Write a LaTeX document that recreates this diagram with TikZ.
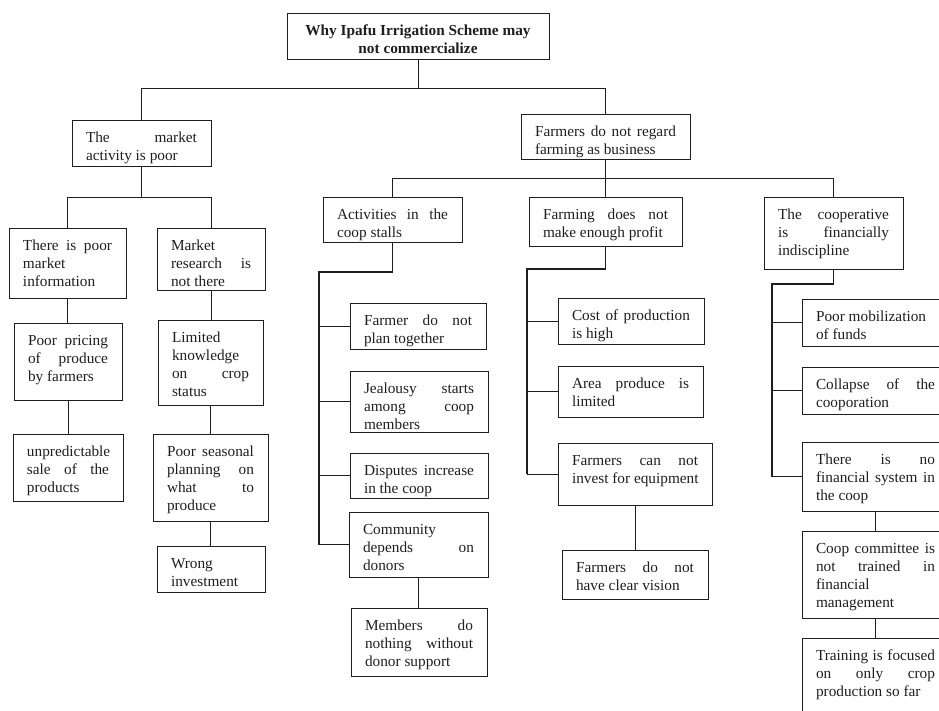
\documentclass[tikz,border=0pt]{standalone}
\usepackage{fontspec}
\setmainfont{Liberation Serif}
\usetikzlibrary{calc}

\definecolor{ink}{HTML}{1E1E1E}

% one line of a box: justified, plain, or centred
\newcommand\jl[1]{\hbox to \hsize{\strut\spaceskip=0.25em plus 1fil\relax #1}}
\newcommand\pl[1]{\hbox{\strut #1}}
\newcommand\cl[1]{\hbox to \hsize{\hfil\strut #1\hfil}}

% name, left x, top y, width, height, lines
\newcommand\causebox[6]{%
  \node[cardbox, minimum width=#4pt, minimum height=#5pt, anchor=north west] (#1) at (#2,#3) {};
  \node[cardtext, anchor=north west] (#1-text) at ([xshift=14pt,yshift=-9.6pt]#1.north west)
    {\vbox{\hsize=\dimexpr#4pt-28pt\relax #6}};
}

\tikzset{
  cardbox/.style={draw=ink, line width=0.9pt, inner sep=0pt, outer sep=0pt},
  cardtext/.style={inner sep=0pt, outer sep=0pt, text=ink,
    font=\fontsize{15.3}{18}\selectfont},
  link/.style={draw=ink, line width=0.9pt},
  trunk/.style={draw=ink, line width=1.5pt},
}

\begin{document}
\begin{tikzpicture}[x=1pt, y=-1pt]
\useasboundingbox (0,0) rectangle (939,710);
\clip (0,0) rectangle (939,710);

% root
\causebox{title}{287}{13}{262}{46}{\cl{\bfseries Why Ipafu Irrigation Scheme may}\cl{\bfseries not commercialize}}

% market side
\causebox{market}{72}{120}{139}{46}{\jl{The market}\pl{activity is poor}}
\causebox{info}{9}{228}{117}{70}{\jl{There is poor}\pl{market}\pl{information}}
\causebox{research}{157}{228}{108}{62}{\pl{Market}\jl{research is}\pl{not there}}
\causebox{pricing}{14}{323}{108}{77}{\jl{Poor pricing}\jl{of produce}\pl{by farmers}}
\causebox{unpred}{13}{434}{110}{67}{\pl{unpredictable}\jl{sale of the}\pl{products}}
\causebox{limited}{158}{320}{105}{85}{\pl{Limited}\pl{knowledge}\jl{on crop}\pl{status}}
\causebox{seasonal}{153}{434}{115}{87}{\jl{Poor seasonal}\jl{planning on}\jl{what to}\pl{produce}}
\causebox{wrong}{157}{546}{108}{46}{\pl{Wrong}\pl{investment}}

% business side
\causebox{farmers}{521}{114}{169}{45}{\jl{Farmers do not regard}\pl{farming as business}}
\causebox{act}{323}{197}{139}{45}{\jl{Activities in the}\pl{coop stalls}}
\causebox{farming}{529}{197}{153}{49}{\jl{Farming does not}\pl{make enough profit}}
\causebox{coop}{764}{197}{139}{72}{\jl{The cooperative}\jl{is financially}\pl{indiscipline}}

\causebox{farmer}{350}{303}{136}{46}{\jl{Farmer do not}\pl{plan together}}
\causebox{jealous}{350}{371}{138}{61}{\jl{Jealousy starts}\jl{among coop}\pl{members}}
\causebox{disputes}{350}{453}{138}{45}{\jl{Disputes increase}\pl{in the coop}}
\causebox{community}{349}{512}{139}{65}{\pl{Community}\jl{depends on}\pl{donors}}
\causebox{members}{351}{608}{136}{68}{\jl{Members do}\jl{nothing without}\pl{donor support}}

\causebox{cost}{558}{298}{146}{46}{\jl{Cost of production}\pl{is high}}
\causebox{area}{558}{366}{145}{51}{\jl{Area produce is}\pl{limited}}
\causebox{invest}{558}{443}{154}{62}{\jl{Farmers can not}\pl{invest for equipment}}
\causebox{vision}{562}{550}{146}{49}{\jl{Farmers do not}\pl{have clear vision}}

\causebox{mobil}{802}{299}{147}{47}{\pl{Poor mobilization}\pl{of funds}}
\causebox{collapse}{802}{367}{147}{47}{\jl{Collapse of the}\pl{cooporation}}
\causebox{nofin}{802}{442}{147}{69}{\jl{There is no}\jl{financial system in}\pl{the coop}}
\causebox{committee}{802}{531}{147}{87}{\jl{Coop committee is}\jl{not trained in}\pl{financial}\pl{management}}
\causebox{training}{802}{638}{147}{80}{\jl{Training is focused}\jl{on only crop}\pl{production so far}}

% root fork
\coordinate (j0) at (418,88);
\draw[link] (title.south) -- (j0);
\draw[link] (j0) -| (market.north);
\draw[link] (j0) -| (farmers.north);

% market fork and chains
\coordinate (j1) at (141.5,197);
\draw[link] (market.south) -- (j1);
\draw[link] (j1) -| (info.north);
\draw[link] (j1) -| (research.north);
\draw[link] (info.south) -- (info.south |- pricing.north);
\draw[link] (pricing.south) -- (pricing.south |- unpred.north);
\draw[link] (research.south) -- (research.south |- limited.north);
\draw[link] (limited.south) -- (limited.south |- seasonal.north);
\draw[link] (seasonal.south) -- (seasonal.south |- wrong.north);

% business fork
\coordinate (j2) at (605.5,178);
\draw[link] (farmers.south) -- (j2);
\draw[link] (j2) -| (act.north);
\draw[link] (j2) -| (farming.north);
\draw[link] (j2) -| (coop.north);

% coop activities
\coordinate (ta) at (319,272);
\draw[trunk] (act.south) |- (ta) -- (ta |- community.west);
\draw[link] (ta) |- (farmer.west);
\draw[link] (ta) |- (jealous.west);
\draw[link] (ta) |- (disputes.west);
\draw[link] (ta) |- (community.west);
\draw[link] (community.south) -- (community.south |- members.north);

% profit
\coordinate (tf) at (527,269);
\draw[trunk] (farming.south) |- (tf) -- (tf |- invest.west);
\draw[link] (tf) |- (cost.west);
\draw[link] (tf) |- (area.west);
\draw[link] (tf) |- (invest.west);
\draw[link] (invest.south) -- (invest.south |- vision.north);

% financial discipline
\coordinate (tc) at (772,284);
\draw[trunk] (coop.south) |- (tc) -- (tc |- nofin.west);
\draw[link] (tc) |- (mobil.west);
\draw[link] (tc) |- (collapse.west);
\draw[link] (tc) |- (nofin.west);
\draw[link] (nofin.south) -- (nofin.south |- committee.north);
\draw[link] (committee.south) -- (committee.south |- training.north);
\end{tikzpicture}
\end{document}
